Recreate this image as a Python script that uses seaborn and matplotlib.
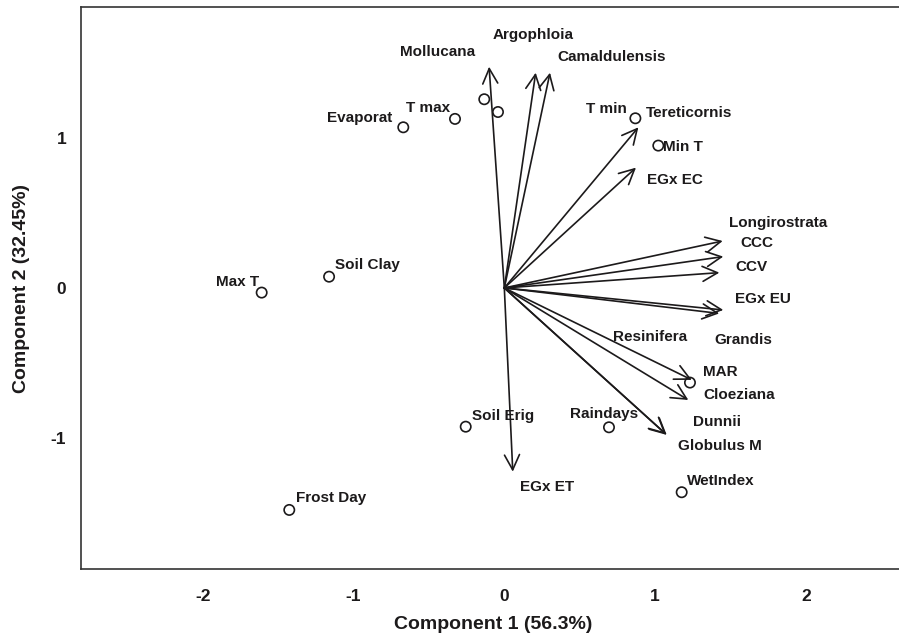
import numpy as np
import pandas as pd
import matplotlib
matplotlib.use("Agg")
import matplotlib.pyplot as plt
import seaborn as sns

# Species loadings (arrow tips) on the first two components
species = ["Mollucana", "Argophloia", "Camaldulensis", "Tereticornis", "EGx EC",
           "Longirostrata", "CCC", "CCV", "EGx EU", "Grandis", "Resinifera",
           "Cloeziana", "Dunnii", "Globulus M", "EGx ET"]
species_pc1 = [-0.101, 0.208, 0.303, 0.889, 0.873,
               1.448, 1.452, 1.426, 1.452, 1.425, 1.243,
               1.220, 1.072, 1.077, 0.056]
species_pc2 = [1.475, 1.435, 1.435, 1.071, 0.802,
               0.313, 0.209, 0.102, -0.147, -0.170, -0.613,
               -0.747, -0.975, -0.980, -1.225]
# Where each species name sits
species_label_pc1 = [-0.442, 0.190, 0.714, 1.225, 1.132,
                     1.813, 1.674, 1.641, 1.714, 1.585, 0.966,
                     1.558, 1.408, 1.430, 0.285]
species_label_pc2 = [1.571, 1.687, 1.542, 1.165, 0.720,
                     0.435, 0.298, 0.138, -0.073, -0.347, -0.329,
                     -0.713, -0.891, -1.053, -1.325]

# Environmental variable scores
env = ["Evaporat", "T max", "", "", "T min", "Min T", "Max T", "Soil Clay",
       "Soil Erig", "Raindays", "MAR", "WetIndex", "Frost Day"]
env_pc1 = [-0.670, -0.327, -0.133, -0.042, 0.869, 1.021, -1.609, -1.162,
           -0.256, 0.694, 1.231, 1.176, -1.426]
env_pc2 = [1.071, 1.127, 1.258, 1.173, 1.131, 0.949, -0.031, 0.075,
           -0.925, -0.929, -0.631, -1.362, -1.480]
env_label_pc1 = [-0.957, -0.504, 0.0, 0.0, 0.674, 1.185, -1.771, -0.906,
                 -0.007, 0.663, 1.430, 1.437, -1.151]
env_label_pc2 = [1.135, 1.198, 0.0, 0.0, 1.191, 0.942, 0.042, 0.153,
                 -0.853, -0.842, -0.558, -1.285, -1.398]

x_ticks = [-2, -1, 0, 1, 2]
y_ticks = [-1, 0, 1]

sns.set_style("white")
plt.rcParams["font.family"] = ["Liberation Sans", "DejaVu Sans"]
ink = "#1c1a1b"

fig = plt.figure(figsize=(8.99, 6.38), dpi=100)
ax = fig.add_axes([0.0901, 0.1074, 0.9166, 0.8821])

env_df = pd.DataFrame({"pc1": env_pc1, "pc2": env_pc2, "name": env})
sns.scatterplot(data=env_df, x="pc1", y="pc2", ax=ax, marker="o", s=55,
                facecolor="none", edgecolor=ink, linewidth=1.2, zorder=3,
                legend=False)

for name, tx, ty, lx, ly in zip(species, species_pc1, species_pc2,
                                species_label_pc1, species_label_pc2):
    ax.annotate("", xy=(tx, ty), xytext=(0, 0),
                arrowprops=dict(arrowstyle="->,head_length=0.6,head_width=0.3",
                                color=ink, lw=1.2, shrinkA=0, shrinkB=0,
                                mutation_scale=18))
    ax.text(lx, ly, name, ha="center", va="center", fontsize=11,
            fontweight="bold", color=ink)

for name, lx, ly in zip(env, env_label_pc1, env_label_pc2):
    if name:
        ax.text(lx, ly, name, ha="center", va="center", fontsize=11,
                fontweight="bold", color=ink)

ax.set_xlim(-2.807, 2.657)
ax.set_ylim(-1.877, 1.875)
ax.set_xticks(x_ticks)
ax.set_yticks(y_ticks)
ax.set_xticklabels([str(v) for v in x_ticks])
ax.set_yticklabels([str(v) for v in y_ticks])
ax.tick_params(axis="both", direction="out", length=6.7, width=0.9,
               color="#555555", labelsize=12.5, labelcolor=ink)
ax.tick_params(axis="x", pad=7)
ax.tick_params(axis="y", pad=4)
for lab in ax.get_xticklabels() + ax.get_yticklabels():
    lab.set_fontweight("bold")
for sp in ax.spines.values():
    sp.set_color("#333333")
    sp.set_linewidth(1.2)

ax.set_xlabel("Component 1 (56.3%)", fontsize=14, fontweight="bold", color=ink)
ax.set_ylabel("Component 2 (32.45%)", fontsize=14, fontweight="bold", color=ink)
ax.xaxis.set_label_coords(0.5, -0.083)
ax.yaxis.set_label_coords(-0.062, 0.5)

fig.savefig("out.png", dpi=100)
